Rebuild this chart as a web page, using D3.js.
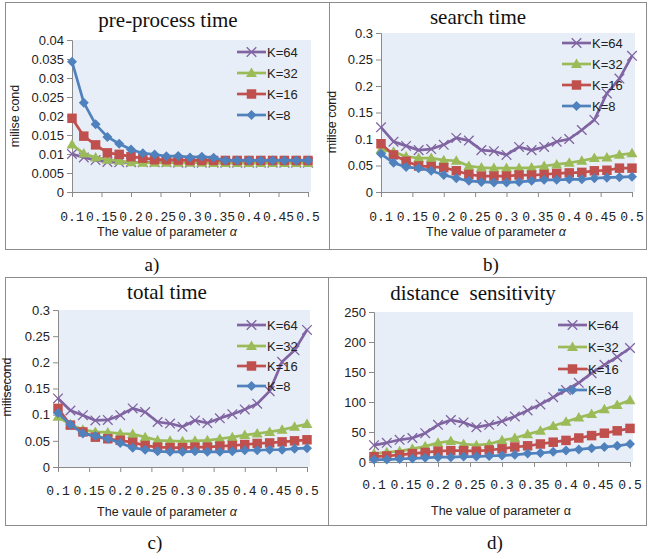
<!DOCTYPE html>
<html><head><meta charset="utf-8">
<script src="https://cdn.jsdelivr.net/npm/d3@7"></script>
<style>
html,body{margin:0;padding:0;background:#fff;}
svg{display:block;}
</style></head>
<body>
<svg id="chart" width="648" height="559"></svg>
<script>
// ---- data ----
const alphas = [0.10,0.12,0.14,0.16,0.18,0.20,0.22,0.24,0.26,0.28,0.30,0.32,0.34,0.36,0.38,0.40,0.42,0.44,0.46,0.48,0.50];
const seriesNames = ["K=64","K=32","K=16","K=8"];
const xTickValues = [0.1,0.15,0.2,0.25,0.3,0.35,0.4,0.45,0.5];
const xTickLabels = ["0.1","0.15","0.2","0.25","0.3","0.35","0.4","0.45","0.5"];

// a) pre-process time
const preK64 = [0.0100,0.0091,0.0084,0.0079,0.0078,0.0078,0.0078,0.0078,0.0078,0.0077,0.0077,0.0077,0.0077,0.0077,0.0077,0.0077,0.0077,0.0077,0.0077,0.0077,0.0077];
const preK32 = [0.0125,0.0101,0.0091,0.0085,0.0082,0.0078,0.0077,0.0077,0.0077,0.0077,0.0077,0.0077,0.0076,0.0076,0.0076,0.0076,0.0076,0.0076,0.0076,0.0076,0.0076];
const preK16 = [0.0194,0.0147,0.0124,0.0103,0.0099,0.0093,0.0089,0.0085,0.0085,0.0084,0.0083,0.0083,0.0083,0.0083,0.0083,0.0083,0.0083,0.0083,0.0083,0.0083,0.0083];
const preK8  = [0.0343,0.0235,0.0178,0.0145,0.0127,0.0112,0.0102,0.0099,0.0094,0.0095,0.0091,0.0093,0.0090,0.0083,0.0083,0.0083,0.0083,0.0083,0.0083,0.0083,0.0083];
const preTicks = [0,0.005,0.01,0.015,0.02,0.025,0.03,0.035,0.04];

// b) search time
const searchK64 = [0.122,0.095,0.087,0.079,0.081,0.089,0.102,0.097,0.079,0.077,0.070,0.085,0.079,0.085,0.095,0.100,0.117,0.136,0.186,0.214,0.257];
const searchK32 = [0.080,0.076,0.067,0.064,0.064,0.060,0.059,0.049,0.046,0.045,0.045,0.045,0.046,0.049,0.052,0.055,0.059,0.064,0.065,0.070,0.073];
const searchK16 = [0.091,0.070,0.058,0.049,0.048,0.046,0.040,0.033,0.030,0.030,0.030,0.032,0.032,0.033,0.035,0.036,0.037,0.040,0.041,0.045,0.045];
const searchK8  = [0.072,0.055,0.047,0.045,0.040,0.032,0.026,0.021,0.019,0.018,0.018,0.019,0.021,0.023,0.023,0.024,0.024,0.026,0.027,0.028,0.029];
const timeTicks = [0,0.05,0.1,0.15,0.2,0.25,0.3];

// c) total time
const totalK64 = [0.131,0.108,0.099,0.089,0.090,0.099,0.112,0.105,0.086,0.083,0.077,0.089,0.084,0.093,0.101,0.110,0.121,0.145,0.201,0.223,0.262];
const totalK32 = [0.096,0.081,0.071,0.067,0.066,0.064,0.063,0.057,0.051,0.050,0.049,0.050,0.051,0.054,0.057,0.061,0.064,0.067,0.071,0.077,0.082];
const totalK16 = [0.112,0.080,0.067,0.057,0.054,0.051,0.047,0.041,0.038,0.037,0.037,0.038,0.038,0.040,0.041,0.043,0.045,0.046,0.048,0.050,0.052];
const totalK8  = [0.103,0.081,0.064,0.059,0.054,0.046,0.037,0.033,0.030,0.029,0.029,0.030,0.029,0.029,0.030,0.032,0.032,0.033,0.033,0.035,0.036];

// d) distance sensitivity
const distK64 = [28,32,37,40,48,62,70,66,58,62,68,76,86,96,108,120,132,148,162,175,190];
const distK32 = [14,16,18,22,26,32,35,30,28,30,36,40,46,52,60,67,74,80,88,95,103];
const distK16 = [9,10,12,14,16,18,19,19,18,20,22,25,27,30,33,36,40,44,48,52,56];
const distK8  = [4,4,5,6,7,8,8,9,9,10,11,12,14,15,17,19,21,23,25,27,30];
const distTicks = [0,50,100,150,200,250];

// ---- styles ----
const colors = ["#8064A2","#9BBB59","#C0504D","#4F81BD"];
const markers = ["x","triangle","square","diamond"];

const panels = [
  {box:[5,2,329,249], x0:72, x1:308, yTop:40, yBot:192, ticks:preTicks, series:[preK64,preK32,preK16,preK8],
   title:"pre-process time", tx:168, ty:27, xlY:221, xt:"The value of parameter ", xtItalic:true, xtX:167, xtY:236,
   yt:"milise cond", ytX:19, ytY:116, lgX:237, lgY:[52,73,94,115], cap:"a)", capX:152, capY:271},
  {box:[329,2,646,249], x0:381, x1:632, yTop:33, yBot:192, ticks:timeTicks, series:[searchK64,searchK32,searchK16,searchK8],
   title:"search time", tx:478, ty:24, xlY:221, xt:"The value of parameter ", xtItalic:true, xtX:496, xtY:236,
   yt:"milise cond", ytX:336, ytY:122, lgX:562, lgY:[43,64,85,106], cap:"b)", capX:491, capY:271},
  {box:[5,277,328,525], x0:58, x1:307, yTop:310, yBot:467, ticks:timeTicks, series:[totalK64,totalK32,totalK16,totalK8],
   title:"total time", tx:167, ty:299, xlY:495, xt:"The vaule of parameter ", xtItalic:true, xtX:167, xtY:516,
   yt:"milisecond", ytX:11, ytY:387, lgX:237, lgY:[325,346,366,386], cap:"c)", capX:155, capY:549},
  {box:[328,277,646,525], x0:374, x1:630, yTop:312, yBot:462, ticks:distTicks, series:[distK64,distK32,distK16,distK8],
   title:"distance  sensitivity", tx:473, ty:300, xlY:489, xt:"The value of parameter ", xtItalic:false, xtX:501, xtY:515,
   yt:null, lgX:558, lgY:[325,347,369,390], cap:"d)", capX:495, capY:549}
];

const svg = d3.select("#chart");
const sansFont = "'Liberation Sans', Arial, sans-serif";
const serifFont = "'Liberation Serif', 'Times New Roman', serif";
const monoFont = "'Liberation Mono', 'DejaVu Sans Mono', monospace";

function drawMarker(g, type, color, x, y) {
  if (type === "x") {
    const s = 4.8;
    g.append("path").attr("d", `M${x-s},${y-s}L${x+s},${y+s}M${x-s},${y+s}L${x+s},${y-s}`)
      .attr("stroke", color).attr("stroke-width", 1.3).attr("fill", "none");
  } else if (type === "triangle") {
    g.append("path").attr("d", d3.symbol().type(d3.symbolTriangle).size(52)()).attr("transform", `translate(${x},${y+0.8})`)
      .attr("fill", color);
  } else if (type === "square") {
    g.append("path").attr("d", d3.symbol().type(d3.symbolSquare).size(90)()).attr("transform", `translate(${x},${y})`)
      .attr("fill", color);
  } else {
    g.append("path").attr("d", d3.symbol().type(d3.symbolSquare).size(50)()).attr("transform", `translate(${x},${y}) rotate(45)`)
      .attr("fill", color);
  }
}

panels.forEach(p => {
  const g = svg.append("g");
  // border
  g.append("rect").attr("x", p.box[0]+0.5).attr("y", p.box[1]+0.5)
    .attr("width", p.box[2]-p.box[0]).attr("height", p.box[3]-p.box[1])
    .attr("fill", "#fff").attr("stroke", "#8c8c8c").attr("stroke-width", 1);

  const x = d3.scaleLinear().domain([0.1, 0.5]).range([p.x0, p.x1]);
  const yMax = p.ticks[p.ticks.length-1];
  const y = d3.scaleLinear().domain([0, yMax]).range([p.yBot, p.yTop]);

  // plot area
  g.append("rect").attr("x", p.x0).attr("y", p.yTop).attr("width", p.x1 - p.x0 + 3).attr("height", p.yBot - p.yTop)
    .attr("fill", "#e8eef7");

  // y axis
  const ya = g.append("g").attr("transform", `translate(${p.x0},0)`)
    .call(d3.axisLeft(y).tickValues(p.ticks).tickSize(5).tickPadding(3).tickFormat(d => String(+d.toFixed(3))));
  ya.selectAll("path,line").attr("stroke", "#8a8a8a");
  ya.selectAll("text").attr("font-family", sansFont).attr("font-size", 13).attr("fill", "#222");

  // x axis
  const xa = g.append("g").attr("transform", `translate(0,${p.yBot})`)
    .call(d3.axisBottom(x).tickValues(xTickValues).tickSize(5).tickFormat(() => ""));
  xa.selectAll("path,line").attr("stroke", "#8a8a8a");
  g.selectAll(null).data(xTickValues).enter().append("text")
    .attr("x", (d) => x(d)).attr("y", p.xlY)
    .attr("text-anchor", "middle").attr("font-family", monoFont).attr("font-size", 13).attr("fill", "#222")
    .text((d, i) => xTickLabels[i]);

  // series
  p.series.forEach((vals, si) => {
    const line = d3.line().x((d, i) => x(alphas[i])).y(d => y(d));
    g.append("path").datum(vals).attr("d", line).attr("fill", "none")
      .attr("stroke", colors[si]).attr("stroke-width", 2.7).attr("stroke-linejoin", "round");
    const mg = g.append("g");
    vals.forEach((v, i) => drawMarker(mg, markers[si], colors[si], x(alphas[i]), y(v)));
  });

  // legend
  seriesNames.forEach((name, si) => {
    const ly = p.lgY[si];
    g.append("line").attr("x1", p.lgX).attr("x2", p.lgX + 29).attr("y1", ly).attr("y2", ly)
      .attr("stroke", colors[si]).attr("stroke-width", 2.7);
    drawMarker(g, markers[si], colors[si], p.lgX + 14.5, ly);
    g.append("text").attr("x", p.lgX + 30).attr("y", ly + 4.5)
      .attr("font-family", sansFont).attr("font-size", 13).attr("fill", "#222").text(name);
  });

  // title
  g.append("text").attr("x", p.tx).attr("y", p.ty).attr("text-anchor", "middle")
    .attr("font-family", serifFont).attr("font-size", 21).attr("fill", "#111")
    .style("white-space", "pre").text(p.title);

  // x title
  const xt = g.append("text").attr("x", p.xtX).attr("y", p.xtY).attr("text-anchor", "middle")
    .attr("font-family", sansFont).attr("font-size", 12.5).attr("fill", "#222").style("white-space", "pre");
  xt.append("tspan").text(p.xt);
  xt.append("tspan").attr("font-style", p.xtItalic ? "italic" : "normal").text("α");

  // y title
  if (p.yt) {
    g.append("text").attr("transform", `translate(${p.ytX},${p.ytY}) rotate(-90)`).attr("text-anchor", "middle")
      .attr("font-family", sansFont).attr("font-size", 12.5).attr("fill", "#222").text(p.yt);
  }

  // caption
  svg.append("text").attr("x", p.capX).attr("y", p.capY).attr("text-anchor", "middle")
    .attr("font-family", serifFont).attr("font-size", 19).attr("fill", "#111").text(p.cap);
});
</script>
</body></html>
